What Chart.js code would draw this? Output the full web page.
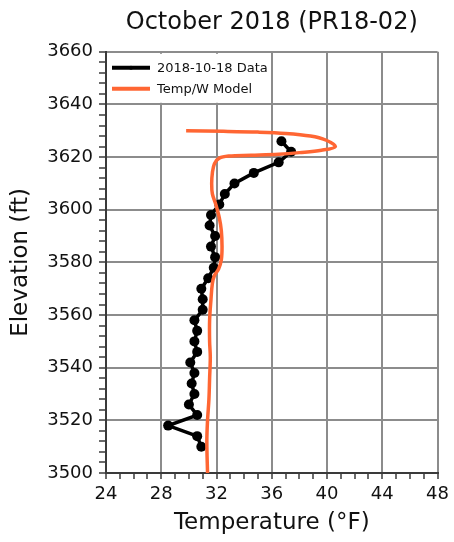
<!DOCTYPE html>
<html>
<head>
<meta charset="utf-8">
<title>October 2018 (PR18-02)</title>
<script src="https://cdn.jsdelivr.net/npm/chart.js@4/dist/chart.umd.min.js"></script>
<style>
  html, body { margin: 0; padding: 0; background: #fff; }
  canvas { display: block; }
</style>
</head>
<body>
<canvas id="profile-chart" width="454" height="542"></canvas>
<script>
// measured profile, 2018-10-18
var measuredElev = [3626, 3622, 3618, 3614, 3610, 3606, 3602, 3598, 3594, 3590,
                    3586, 3582, 3578, 3574, 3570, 3566, 3562, 3558, 3554, 3550,
                    3546, 3542, 3538, 3534, 3530, 3526, 3522, 3518, 3514, 3510];
var measuredTemp = [36.7, 37.4, 36.5, 34.7, 33.3, 32.6, 32.2, 31.6, 31.5, 31.9,
                    31.6, 31.9, 31.8, 31.4, 30.9, 31.0, 31.0, 30.4, 30.6, 30.4,
                    30.6, 30.1, 30.4, 30.2, 30.4, 30.0, 30.6, 28.5, 30.6, 30.9];

// Temp/W model output
var modelElev = [3630, 3629.8, 3629.5, 3629, 3628, 3626.5, 3624, 3622.6, 3621.7, 3621.1,
                 3620.7, 3620.4, 3619.6, 3617.5, 3614, 3610, 3606, 3602, 3597, 3592,
                 3586, 3581, 3577.5, 3575, 3572, 3566, 3558, 3550, 3544, 3536,
                 3528, 3520, 3512, 3500];
var modelTemp = [29.8, 32.5, 35, 37, 38.8, 39.9, 40.6, 39.6, 38, 36.5,
                 34.5, 32.9, 32.2, 31.85, 31.7, 31.65, 31.7, 31.95, 32.2, 32.35,
                 32.4, 32.35, 32.15, 31.85, 31.7, 31.6, 31.5, 31.5, 31.55, 31.5,
                 31.45, 31.35, 31.3, 31.35];

var tempRange = [24, 48];
var elevRange = [3500, 3660];
var tempLabelStep = 4;
var elevLabelStep = 20;

function toPoints(temps, elevs) {
    var pts = [];
    for (var i = 0; i < temps.length; i++) {
        pts.push({ x: temps[i], y: elevs[i] });
    }
    return pts;
}

Chart.defaults.font.family = '"DejaVu Sans", sans-serif';
Chart.defaults.color = "#111";

var gridGray = "#8c8c8c";
var axisDark = "#3a3a3a";

// legend in the upper-left corner of the plot, on a white box
var boxLegend = {
    id: "boxLegend",
    afterDatasetsDraw: function (chart) {
        var ctx = chart.ctx;
        var x0 = chart.chartArea.left + 2;
        var y0 = chart.chartArea.top + 2;
        ctx.save();
        ctx.fillStyle = "#fff";
        ctx.fillRect(x0, y0, 163, 49);
        ctx.font = '13px "DejaVu Sans", sans-serif';
        ctx.textBaseline = "middle";
        chart.data.datasets.forEach(function (ds, i) {
            var y = y0 + 14 + i * 21;
            ctx.strokeStyle = ds.borderColor;
            ctx.lineWidth = 4;
            ctx.beginPath();
            ctx.moveTo(x0 + 4, y);
            ctx.lineTo(x0 + 42, y);
            ctx.stroke();
            if (ds.pointRadius) {
                ctx.fillStyle = ds.borderColor;
                ctx.beginPath();
                ctx.arc(x0 + 23, y, 2, 0, Math.PI * 2);
                ctx.fill();
            }
            ctx.fillStyle = "#111";
            ctx.fillText(ds.label, x0 + 49, y + 1);
        });
        ctx.restore();
    }
};

function minorGrid(step) {
    return function (c) {
        return c.tick && c.tick.value % step === 0 ? gridGray : "rgba(0,0,0,0)";
    };
}

var profileChart = new Chart("profile-chart", {
    type: "scatter",
    data: {
        datasets: [
            {
                label: "2018-10-18 Data",
                data: toPoints(measuredTemp, measuredElev),
                showLine: true,
                borderColor: "#000",
                backgroundColor: "#000",
                borderWidth: 3.5,
                pointRadius: 5,
                pointBorderWidth: 0,
                pointHoverRadius: 5,
                tension: 0,
                order: 2
            },
            {
                label: "Temp/W Model",
                data: toPoints(modelTemp, modelElev),
                showLine: true,
                borderColor: "#ff6633",
                backgroundColor: "#ff6633",
                borderWidth: 3.5,
                pointRadius: 0,
                tension: 0.35,
                order: 1
            }
        ]
    },
    options: {
        responsive: false,
        animation: false,
        layout: { padding: { right: 16, top: 0, bottom: 0, left: 0 } },
        plugins: {
            legend: { display: false },
            tooltip: { enabled: false },
            title: {
                display: true,
                text: "October 2018 (PR18-02)",
                fullSize: false,
                font: { size: 24, weight: "normal" },
                color: "#111",
                padding: { top: 8, bottom: 15 }
            }
        },
        scales: {
            x: {
                type: "linear",
                min: tempRange[0],
                max: tempRange[1],
                afterFit: function (s) { s.height = 69; },
                ticks: {
                    stepSize: 1,
                    autoSkip: false,
                    maxRotation: 0,
                    padding: 5,
                    font: { size: 18 },
                    color: "#111",
                    callback: function (v) { return v % tempLabelStep === 0 ? v : ""; }
                },
                grid: {
                    color: minorGrid(tempLabelStep),
                    lineWidth: 2,
                    tickColor: axisDark,
                    tickLength: 6,
                    tickWidth: 1.5
                },
                border: { color: axisDark, width: 2 },
                title: {
                    display: true,
                    text: "Temperature (°F)",
                    font: { size: 23 },
                    color: "#111",
                    padding: { top: 0, bottom: 5 }
                }
            },
            y: {
                type: "linear",
                min: elevRange[0],
                max: elevRange[1],
                afterFit: function (s) { s.width = 106; },
                ticks: {
                    stepSize: 4,
                    autoSkip: false,
                    padding: 6,
                    font: { size: 18 },
                    color: "#111",
                    callback: function (v) { return v % elevLabelStep === 0 ? v : ""; }
                },
                grid: {
                    color: minorGrid(elevLabelStep),
                    lineWidth: 2,
                    tickColor: axisDark,
                    tickLength: 7,
                    tickWidth: 1.5
                },
                border: { color: axisDark, width: 2 },
                title: {
                    display: true,
                    text: "Elevation (ft)",
                    font: { size: 23 },
                    color: "#111",
                    padding: { top: 7, bottom: 0 }
                }
            }
        }
    },
    plugins: [boxLegend]
});
</script>
</body>
</html>
